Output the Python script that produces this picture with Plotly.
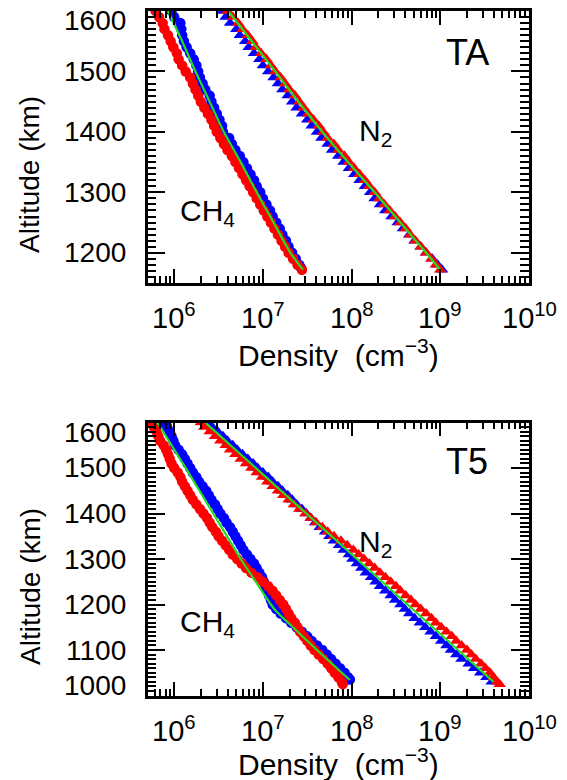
import plotly.graph_objects as go

# ---------------- data (log10 of density in cm^-3) ----------------
ta_alt = [1600,1590,1580,1570,1560,1550,1540,1530,1520,1510,1500,1490,1480,1470,1460,
          1450,1440,1430,1420,1410,1400,1390,1380,1370,1360,1350,1340,1330,1320,1310,
          1300,1290,1280,1270,1260,1250,1240,1230,1220,1210,1200,1190,1180]

ta_ch4_blue_alt = ta_alt + [1175]
ta_ch4_blue = [5.97,6.00,6.07,6.08,6.09,6.11,6.14,6.18,6.22,6.25,6.27,6.29,6.32,6.35,6.40,
               6.42,6.45,6.48,6.51,6.54,6.55,6.62,6.65,6.69,6.74,6.78,6.82,6.86,6.90,6.93,
               6.97,7.00,7.04,7.08,7.11,7.15,7.19,7.22,7.26,7.29,7.33,7.37,7.41,7.43]
ta_ch4_red_alt = ta_alt + [1172]
ta_ch4_red = [5.79,5.83,5.87,5.89,5.93,5.96,5.99,6.03,6.05,6.09,6.13,6.18,6.21,6.24,6.27,
              6.30,6.34,6.38,6.42,6.45,6.48,6.52,6.56,6.60,6.65,6.69,6.73,6.77,6.81,6.85,
              6.89,6.93,6.97,7.01,7.05,7.09,7.13,7.17,7.21,7.25,7.29,7.34,7.39,7.44]
ta_ch4_model_alt = [1600,1550,1500,1450,1400,1350,1300,1250,1200,1172]
ta_ch4_model = [5.93,6.09,6.24,6.40,6.56,6.75,6.93,7.12,7.31,7.45]

ta_n2_alt = ta_alt + [1172]
ta_n2_blue = [6.55,6.58,6.63,6.70,6.74,6.80,6.84,6.90,6.96,7.00,7.06,7.12,7.17,7.22,7.28,
              7.33,7.38,7.44,7.50,7.55,7.61,7.66,7.73,7.78,7.85,7.91,7.97,8.03,8.09,8.15,
              8.21,8.26,8.32,8.38,8.45,8.52,8.58,8.65,8.71,8.78,8.84,8.91,8.97,9.02]
ta_n2_red = [6.60,6.66,6.72,6.77,6.83,6.88,6.92,6.98,7.04,7.09,7.14,7.20,7.25,7.30,7.36,
             7.41,7.46,7.51,7.57,7.63,7.68,7.73,7.80,7.85,7.92,7.97,8.03,8.09,8.15,8.20,
             8.26,8.31,8.37,8.43,8.49,8.55,8.61,8.66,8.72,8.78,8.84,8.90,8.95,9.00]
ta_n2_model_alt = [1600,1550,1500,1450,1400,1350,1300,1250,1200,1172]
ta_n2_model = [6.61,6.875,7.14,7.40,7.67,7.96,8.26,8.55,8.84,9.00]

t5_alt = [1600,1590,1580,1570,1560,1550,1540,1530,1520,1510,1500,1490,1480,1470,1460,
          1450,1440,1430,1420,1410,1400,1390,1380,1370,1360,1350,1340,1330,1320,1310,
          1300,1290,1280,1270,1260,1250,1240,1230,1220,1210,1200,1190,1180,1170,1160,
          1150,1140,1130,1120,1110,1100,1090,1080,1070,1060,1050,1040]

t5_ch4_blue_alt = t5_alt + [1035]
t5_ch4_blue = [5.87,5.92,5.95,5.97,5.99,6.01,6.05,6.09,6.12,6.15,6.18,6.21,6.25,6.28,6.32,
               6.36,6.39,6.42,6.46,6.49,6.52,6.56,6.59,6.63,6.66,6.69,6.72,6.75,6.78,6.82,
               6.86,6.90,6.93,6.96,6.99,7.01,7.03,7.05,7.07,7.09,7.11,7.15,7.20,7.26,7.32,
               7.38,7.44,7.50,7.55,7.61,7.67,7.72,7.77,7.82,7.87,7.92,7.96,7.98]
t5_ch4_red_alt = t5_alt + [1030, 1025]
t5_ch4_red = [5.74,5.77,5.80,5.82,5.84,5.88,5.91,5.93,5.95,5.97,6.00,6.04,6.07,6.09,6.12,
              6.15,6.18,6.21,6.25,6.29,6.33,6.37,6.40,6.43,6.47,6.50,6.54,6.58,6.62,6.66,
              6.71,6.76,6.81,6.87,6.94,7.00,7.06,7.11,7.15,7.19,7.23,7.26,7.29,7.32,7.36,
              7.39,7.42,7.46,7.50,7.54,7.58,7.63,7.68,7.73,7.77,7.81,7.85,7.89,7.90]
t5_ch4_model_alt = [1600,1500,1400,1300,1250,1200,1184,1150,1100,1034]
t5_ch4_model = [5.81,6.13,6.44,6.75,6.92,7.09,7.155,7.34,7.61,7.98]

t5_n2_blue_alt = t5_alt + [1030]
t5_n2_blue = [6.37,6.43,6.49,6.55,6.60,6.66,6.71,6.77,6.83,6.89,6.94,7.00,7.06,7.11,7.17,
              7.22,7.28,7.33,7.38,7.44,7.49,7.54,7.59,7.64,7.70,7.75,7.80,7.86,7.91,7.97,
              8.01,8.06,8.11,8.16,8.22,8.27,8.32,8.38,8.44,8.49,8.55,8.60,8.65,8.71,8.77,
              8.83,8.89,8.95,9.01,9.07,9.12,9.18,9.24,9.32,9.38,9.45,9.52,9.58]
t5_n2_red_alt = t5_alt + [1030, 1025]
t5_n2_red = [6.30,6.34,6.40,6.46,6.52,6.58,6.63,6.69,6.75,6.81,6.87,6.93,6.99,7.05,7.11,
             7.17,7.23,7.29,7.35,7.41,7.48,7.54,7.60,7.67,7.73,7.80,7.88,7.95,8.02,8.08,
             8.14,8.20,8.26,8.32,8.38,8.44,8.50,8.55,8.61,8.67,8.72,8.78,8.84,8.90,8.95,
             9.01,9.07,9.13,9.18,9.24,9.30,9.35,9.40,9.46,9.51,9.56,9.60,9.64,9.67]
t5_n2_model_alt = [1600,1500,1400,1300,1200,1100,1030]
t5_n2_model = [6.35,6.92,7.49,8.06,8.63,9.20,9.60]

x_tick_exp = [6, 7, 8, 9, 10]
ta_y_ticks = [1200, 1300, 1400, 1500, 1600]
t5_y_ticks = [1000, 1100, 1200, 1300, 1400, 1500, 1600]

# ---------------- styling ----------------
W, H = 567, 780
BLUE, RED, GREEN = "#0000ff", "#ff0000", "#22dd22"
FONT = "Liberation Sans"
px_l, px_r = 147.5, 529.0
panels = [  # (top px, bottom px, yrange)
    (11.0, 283.0, [1150, 1600]),
    (422.5, 695.5, [1000, 1600]),
]

def lin(v):
    return [10 ** x for x in v]

fig = go.Figure()

def add_panel(k, ch4b, ch4b_alt, ch4r, ch4r_alt, ch4m, ch4m_alt,
              n2b, n2b_alt, n2r, n2r_alt, n2m, n2m_alt):
    xa = "x" if k == 0 else "x2"
    ya = "y" if k == 0 else "y2"
    common = dict(xaxis=xa, yaxis=ya, showlegend=False, hoverinfo="skip")
    fig.add_trace(go.Scatter(x=lin(ch4b), y=ch4b_alt, mode="markers",
                             marker=dict(symbol="circle", size=10.5, color=BLUE, line=dict(width=0)), **common))
    fig.add_trace(go.Scatter(x=lin(n2b), y=n2b_alt, mode="markers",
                             marker=dict(symbol="triangle-up", size=11, color=BLUE, line=dict(width=0)), **common))
    fig.add_trace(go.Scatter(x=lin(ch4r), y=ch4r_alt, mode="markers",
                             marker=dict(symbol="circle", size=10.5, color=RED, line=dict(width=0)), **common))
    fig.add_trace(go.Scatter(x=lin(n2r), y=n2r_alt, mode="markers",
                             marker=dict(symbol="triangle-up", size=11, color=RED, line=dict(width=0)), **common))
    fig.add_trace(go.Scatter(x=lin(ch4m), y=ch4m_alt, mode="lines",
                             line=dict(color=GREEN, width=2.2, shape="spline", smoothing=0.6), **common))
    fig.add_trace(go.Scatter(x=lin(n2m), y=n2m_alt, mode="lines",
                             line=dict(color=GREEN, width=2.2, shape="spline", smoothing=0.6), **common))

add_panel(0, ta_ch4_blue, ta_ch4_blue_alt, ta_ch4_red, ta_ch4_red_alt, ta_ch4_model, ta_ch4_model_alt,
          ta_n2_blue, ta_n2_alt, ta_n2_red, ta_n2_alt, ta_n2_model, ta_n2_model_alt)
add_panel(1, t5_ch4_blue, t5_ch4_blue_alt, t5_ch4_red, t5_ch4_red_alt, t5_ch4_model, t5_ch4_model_alt,
          t5_n2_blue, t5_n2_blue_alt, t5_n2_red, t5_n2_red_alt, t5_n2_model, t5_n2_model_alt)

def xaxis_cfg(anchor):
    return dict(type="log", range=[5.69897, 10], domain=[px_l / W, px_r / W], anchor=anchor,
                showline=True, linecolor="black", linewidth=2.5, mirror="allticks",
                ticks="inside", ticklen=14, tickwidth=2, tickcolor="black", dtick=1,
                minor=dict(ticks="inside", ticklen=7, tickwidth=2, tickcolor="black", dtick="D1", showgrid=False),
                showticklabels=False, showgrid=False, zeroline=False)

def yaxis_cfg(anchor, top, bot, rng):
    return dict(range=rng, domain=[1 - bot / H, 1 - top / H], anchor=anchor,
                showline=True, linecolor="black", linewidth=2.5, mirror="allticks",
                ticks="inside", ticklen=18, tickwidth=2, tickcolor="black", tick0=1000, dtick=100,
                minor=dict(ticks="inside", ticklen=9, tickwidth=2, tickcolor="black", dtick=10, showgrid=False),
                showticklabels=False, showgrid=False, zeroline=False)

annotations = []
def txt(text, x, y, xref="paper", yref="paper", size=28, xanchor="center", yanchor="middle",
        angle=0, yshift=0):
    annotations.append(dict(text=text, x=x, y=y, xref=xref, yref=yref, showarrow=False,
                            xanchor=xanchor, yanchor=yanchor, textangle=angle, yshift=yshift,
                            font=dict(family=FONT, size=size, color="black")))

NB = "\u00a0"
for k, (top, bot, rng) in enumerate(panels):
    xr = "x" if k == 0 else "x2"
    yr = "y" if k == 0 else "y2"
    ticks = ta_y_ticks if k == 0 else t5_y_ticks
    for t in ticks:
        shift = 0
        if t == rng[1]:
            shift = -10
        elif t == rng[0]:
            shift = 10
        txt(str(t), 128 / W, t, yref=yr, xanchor="right", yshift=shift)
    for e in x_tick_exp:
        txt("10<sup>%d</sup>" % e, e, 1 - (bot + 33) / H, xref=xr, size=29)
    dens_y = bot + (70 if k == 0 else 66)
    txt("Density" + NB + NB + "(cm<sup>\u22123</sup>)", (px_l + px_r) / 2 / W, 1 - dens_y / H, size=30)
    txt("Altitude" + NB + "(km)", 30 / W, 1 - ((top + bot) / 2 + 28) / H, angle=-90, size=28)

# panel labels
txt("TA", 467 / W, 1 - 53 / H, size=36)
txt("T5", 467 / W, 1 - 461 / H, size=36)
txt("N<sub>2</sub>", 375 / W, 1 - 132 / H, size=30)
txt("N<sub>2</sub>", 375 / W, 1 - 543 / H, size=30)
txt("CH<sub>4</sub>", 207 / W, 1 - 213 / H, size=30)
txt("CH<sub>4</sub>", 207 / W, 1 - 623 / H, size=30)

fig.update_layout(
    width=W, height=H, margin=dict(l=0, r=0, t=0, b=0),
    paper_bgcolor="white", plot_bgcolor="white",
    xaxis=xaxis_cfg("y"), yaxis=yaxis_cfg("x", *panels[0]),
    xaxis2=xaxis_cfg("y2"), yaxis2=yaxis_cfg("x2", *panels[1]),
    annotations=annotations,
)

fig.write_html("out.html")
